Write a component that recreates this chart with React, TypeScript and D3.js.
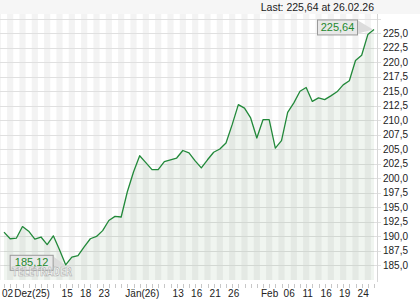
import React from "react";
import * as d3 from "d3";

const dates: string[] = [
  "2025-12-01","2025-12-02","2025-12-03","2025-12-04","2025-12-05",
  "2025-12-08","2025-12-09","2025-12-10","2025-12-11","2025-12-12",
  "2025-12-15","2025-12-16","2025-12-17","2025-12-18","2025-12-19",
  "2025-12-22","2025-12-23","2025-12-24","2025-12-29","2025-12-30","2025-12-31",
  "2026-01-02","2026-01-05","2026-01-06","2026-01-07","2026-01-08","2026-01-09",
  "2026-01-12","2026-01-13","2026-01-14","2026-01-15","2026-01-16",
  "2026-01-19","2026-01-20","2026-01-21","2026-01-22","2026-01-23",
  "2026-01-26","2026-01-27","2026-01-28","2026-01-29","2026-01-30",
  "2026-02-02","2026-02-03","2026-02-04","2026-02-05","2026-02-06",
  "2026-02-09","2026-02-10","2026-02-11","2026-02-12","2026-02-13",
  "2026-02-16","2026-02-17","2026-02-18","2026-02-19","2026-02-20",
  "2026-02-23","2026-02-24","2026-02-25","2026-02-26",
];

const prices: number[] = [
  190.75, 189.6, 189.7, 191.7, 190.9, 189.55, 189.9, 188.6, 190.1, 187.7,
  185.12, 186.45, 186.7, 188.2, 189.6, 190.0, 191.0, 192.75, 193.45, 193.35,
  197.7, 201.1, 203.9, 202.7, 201.5, 201.5, 202.9, 203.2, 203.5, 204.8,
  204.4, 203.0, 201.8, 203.2, 204.5, 205.05, 206.1, 209.25, 212.7, 212.1,
  210.4, 206.95, 210.1, 210.1, 205.2, 206.5, 211.35, 213.0, 215.0, 215.65,
  213.25, 213.85, 213.55, 214.2, 214.9, 216.1, 216.8, 220.3, 221.2, 224.75,
  225.64,
];

const yTicks: number[] = [185, 187.5, 190, 192.5, 195, 197.5, 200, 202.5, 205, 207.5, 210, 212.5, 215, 217.5, 220, 222.5, 225];
const yGrid: number[] = [...yTicks, 227.5];

const dayLabels: { date: string; text: string }[] = [
  { date: "2025-12-15", text: "15" },
  { date: "2025-12-18", text: "18" },
  { date: "2025-12-23", text: "23" },
  { date: "2026-01-13", text: "13" },
  { date: "2026-01-16", text: "16" },
  { date: "2026-01-21", text: "21" },
  { date: "2026-01-26", text: "26" },
  { date: "2026-02-06", text: "06" },
  { date: "2026-02-11", text: "11" },
  { date: "2026-02-16", text: "16" },
  { date: "2026-02-19", text: "19" },
  { date: "2026-02-24", text: "24" },
];
const startLabels: { date: string; text: string }[] = [
  { date: "2025-12-01", text: "02" },
  { date: "2025-12-03", text: "Dez(25)" },
  { date: "2025-12-31", text: "Jän(26)" },
  { date: "2026-02-02", text: "Feb" },
];

const headerText = "Last: 225,64 at 26.02.26";
const watermark = "TELETRADER";

const W = 420, H = 300;
const plot = { left: 0, right: 377, top: 14, bottom: 280 };
const FONT = "'Liberation Sans', Arial, sans-serif";

export default function App() {
  const x = d3.scalePoint<string>().domain(dates).range([4, 374]).padding(0);
  const y = d3.scaleLinear().domain([182.5, 228.3]).range([plot.bottom, plot.top]);
  const step = x.step();
  const fmt = (v: number) => v.toFixed(1).replace(".", ",");
  const fmt2 = (v: number) => v.toFixed(2).replace(".", ",");

  const data = dates.map((d, i) => ({ d, v: prices[i] }));
  const line = d3.line<{ d: string; v: number }>().x((p) => x(p.d)!).y((p) => y(p.v));
  const area = d3.area<{ d: string; v: number }>().x((p) => x(p.d)!).y0(plot.bottom).y1((p) => y(p.v));

  const last = data[data.length - 1];
  const minIdx = d3.minIndex(prices);
  const minP = data[minIdx];
  const lx = x(last.d)!, ly = y(last.v);
  const mx = x(minP.d)!, my = y(minP.v);

  return (
    <svg width={W} height={H} style={{ position: "absolute", left: 0, top: 0, background: "#fff" }} fontFamily={FONT}>
      <rect x={0} y={0} width={W} height={plot.top} fill="#f6f6f6" />
      <text x={374} y={11} textAnchor="end" fontSize={10.5} fill="#222">{headerText}</text>
      <rect x={plot.left} y={plot.top} width={plot.right - plot.left} height={plot.bottom - plot.top} fill="#f3f3f3" />
      {dates.map((d, i) =>
        i % 2 === 0 ? (
          <rect key={d} x={x(d)! - step / 2} y={plot.top} width={step} height={plot.bottom - plot.top} fill="#ffffff" />
        ) : null
      )}
      {yGrid.map((v) => (
        <line key={v} x1={plot.left} x2={plot.right + 4} y1={Math.round(y(v)) + 0.5} y2={Math.round(y(v)) + 0.5} stroke="#e0e0e0" />
      ))}
      <path d={area(data)!} fill="rgba(40,120,40,0.07)" />
      <path d={line(data)!} fill="none" stroke="#22893a" strokeWidth={1.3} strokeLinejoin="round" />
      <line x1={plot.right + 0.5} x2={plot.right + 0.5} y1={plot.top} y2={plot.bottom + 2} stroke="#d6d6d6" />
      {yTicks.map((v) => (
        <text key={v} x={383} y={y(v)} dy="0.35em" fontSize={10} fill="#222">{fmt(v)}</text>
      ))}
      {dates.map((d) => (
        <line key={d} x1={Math.round(x(d)!) + 0.5} x2={Math.round(x(d)!) + 0.5} y1={284} y2={288} stroke="#c8c8c8" />
      ))}
      {dayLabels.map((l) => (
        <text key={l.date} x={x(l.date)! + 1.5} y={297} textAnchor="middle" fontSize={10} fill="#222">{l.text}</text>
      ))}
      {startLabels.map((l) => (
        <text key={l.date} x={x(l.date)! - 2} y={297} textAnchor="start" fontSize={10} fill="#222">{l.text}</text>
      ))}
      {/* last value callout */}
      <polygon points={`${lx - 16},${ly - 9} ${lx - 1},${ly} ${lx - 16},${ly + 4}`} fill="#dcdcdc" />
      <rect x={lx - 56.5} y={ly - 9.5} width={40} height={15} fill="#e8e8e8" stroke="#9a9a9a" />
      <text x={lx - 36.5} y={ly - 2} dy="0.35em" textAnchor="middle" fontSize={11} fill="#1e8a2e">{fmt2(last.v)}</text>
      {/* min value callout */}
      <polygon points={`${mx - 12},${my - 8} ${mx - 1},${my} ${mx - 12},${my + 4}`} fill="#dcdcdc" />
      <rect x={mx - 55.5} y={my - 9.5} width={43} height={15} fill="#e8e8e8" stroke="#9a9a9a" />
      <text x={mx - 34} y={my - 2.5} dy="0.35em" textAnchor="middle" fontSize={11} fill="#1e8a2e">{fmt2(minP.v)}</text>
      <text x={12} y={plot.bottom - 4} fontSize={12} fontWeight="bold" fill="#ffffff" fillOpacity={0.6} stroke="#a8a8a8" strokeWidth={0.7} textLength={60} lengthAdjust="spacingAndGlyphs" fontFamily="'DejaVu Sans', sans-serif">{watermark}</text>
    </svg>
  );
}
